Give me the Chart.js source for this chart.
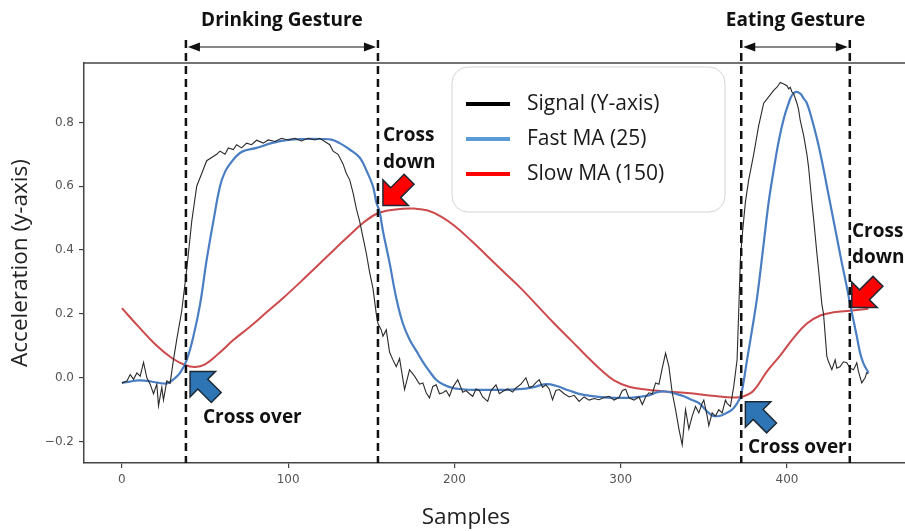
<!DOCTYPE html>
<html>
<head>
<meta charset="utf-8">
<script src="https://cdn.jsdelivr.net/npm/chart.js@4.4.0/dist/chart.umd.min.js"></script>
<style>
  html, body { margin: 0; padding: 0; background: #fff; overflow: hidden; }
</style>
</head>
<body>
<canvas id="myChart" width="905" height="531"></canvas>
<script>
// raw signal (y-axis accelerometer)
const signalX = [0,3,5,7,9,11,13,15,17,19,21,22,24,25,27,29,31,33,36,39,42,45,48,51,54,57,59,62,64,67,69,72,75,78,81,85,88,92,96,100,104,108,112,116,119,122,125,127,130,133,135,137,139,141,143,145,147,149,151,153,154,156,157,159,161,163,165,167,170,173,176,179,181,183,185,187,189,191,193,195,197,199,202,205,207,209,211,213,215,217,220,222,225,227,229,232,235,237,240,243,245,247,249,251,253,255,257,259,261,263,266,269,272,275,278,281,284,287,290,293,296,299,301,303,305,308,311,313,315,317,319,321,323,325,327,329,331,333,335,337,339,341,343,345,347,349,350,352,353,355,357,359,361,363,364,366,368,370,371,372,373,375,377,380,383,386,389,392,394,396,398,400,401,402,403,404,406,407,408,410,412,413,415,416,418,419,421,422,424,425,427,429,430,432,434,436,438,440,441,442,443,445,447,448,449];
const signalY = [-0.016,-0.01,0.01,-0.005,0.015,0.005,0.048,0.0,-0.02,-0.05,-0.02,-0.088,-0.03,-0.07,-0.01,-0.017,0.056,0.12,0.21,0.34,0.49,0.6,0.64,0.68,0.69,0.70,0.71,0.70,0.72,0.715,0.73,0.72,0.735,0.73,0.744,0.735,0.745,0.74,0.75,0.745,0.75,0.742,0.75,0.745,0.75,0.74,0.73,0.71,0.70,0.67,0.64,0.62,0.58,0.53,0.49,0.44,0.39,0.33,0.28,0.20,0.17,0.15,0.13,0.15,0.08,0.056,0.035,0.06,-0.037,0.025,0.005,-0.02,-0.016,-0.047,-0.063,-0.027,-0.022,-0.05,-0.047,-0.04,-0.058,-0.03,-0.006,-0.045,-0.04,-0.05,-0.058,-0.035,-0.04,-0.06,-0.074,-0.04,-0.022,-0.05,-0.043,-0.035,-0.045,-0.032,-0.02,0.0,-0.03,-0.027,-0.015,-0.006,-0.03,-0.022,-0.035,-0.069,-0.04,-0.037,-0.05,-0.06,-0.055,-0.074,-0.06,-0.07,-0.065,-0.069,-0.062,-0.058,-0.07,-0.062,-0.04,-0.036,-0.063,-0.07,-0.06,-0.084,-0.06,-0.047,-0.05,-0.016,-0.02,0.03,0.077,0.035,-0.047,-0.1,-0.16,-0.21,-0.10,-0.16,-0.12,-0.09,-0.11,-0.08,-0.07,-0.12,-0.15,-0.11,-0.12,-0.10,-0.11,-0.07,-0.08,-0.09,-0.027,0.056,0.21,0.37,0.44,0.55,0.62,0.70,0.79,0.86,0.88,0.90,0.91,0.925,0.92,0.915,0.905,0.91,0.895,0.89,0.86,0.84,0.806,0.76,0.70,0.66,0.55,0.5,0.39,0.34,0.23,0.2,0.067,0.05,0.025,0.056,0.03,0.035,0.05,0.047,0.03,0.025,0.035,0.047,0.02,-0.016,0.0,0.016,0.012];

// fast moving average (25)
const fastX = [0,5,10,15,20,25,28,31,35,39,43,47,51,55,59,62,65,69,73,81,90,100,110,120,126,131,137,143,147,151,153,155,157,161,165,169,173,177,181,185,189,193,199,205,211,221,231,241,247,255,261,269,277,287,297,307,317,322,327,333,338,343,347,351,355,359,363,367,370,372,374,376,379,382,386,389,392,395,398,401,403,405,408,410,412,415,418,421,424,427,430,433,436,438,440,442,444,446,449];
const fastY = [-0.016,-0.012,-0.008,-0.01,-0.014,-0.018,-0.016,-0.005,0.015,0.056,0.13,0.23,0.37,0.49,0.6,0.645,0.67,0.695,0.71,0.72,0.735,0.745,0.748,0.748,0.746,0.735,0.715,0.69,0.65,0.60,0.55,0.52,0.46,0.36,0.25,0.17,0.12,0.085,0.05,0.02,-0.006,-0.02,-0.032,-0.036,-0.038,-0.038,-0.038,-0.035,-0.03,-0.02,-0.025,-0.04,-0.053,-0.06,-0.063,-0.062,-0.055,-0.045,-0.043,-0.05,-0.058,-0.07,-0.079,-0.1,-0.118,-0.12,-0.112,-0.1,-0.08,-0.06,-0.01,0.056,0.15,0.25,0.42,0.55,0.65,0.74,0.81,0.86,0.885,0.895,0.89,0.875,0.86,0.81,0.75,0.68,0.60,0.52,0.44,0.36,0.285,0.23,0.18,0.13,0.078,0.045,0.016];

// slow moving average (150)
const slowX = [0,10,20,30,38,44,50,58,67,77,87,97,107,117,127,137,145,153,160,168,176,184,192,200,210,220,230,240,250,260,270,280,288,296,305,315,325,340,355,368,374,380,388,396,404,412,420,428,438,449];
const slowY = [0.218,0.16,0.105,0.062,0.04,0.034,0.042,0.075,0.118,0.16,0.205,0.25,0.298,0.348,0.398,0.447,0.485,0.513,0.524,0.529,0.53,0.524,0.505,0.476,0.43,0.38,0.33,0.28,0.225,0.17,0.118,0.065,0.025,-0.008,-0.028,-0.037,-0.042,-0.048,-0.056,-0.062,-0.058,-0.04,0.02,0.07,0.125,0.17,0.195,0.205,0.21,0.216];

const seriesLabels = ['Signal (Y-axis)', 'Fast MA (25)', 'Slow MA (150)'];
const xTicks = [0, 100, 200, 300, 400];
const yTicks = [-0.2, 0.0, 0.2, 0.4, 0.6, 0.8];

// gesture limits (samples) and crossing points
const gestureBounds = [38.5, 154, 372.5, 437.8];
const gestureNames = ['Drinking Gesture', 'Eating Gesture'];
const crossOverPts = [[41, 0.02], [375, -0.075]];
const crossDownPts = [[157, 0.54], [439, 0.22]];

const textFont = 'Open Sans';

function pairs(xs, ys) {
    return xs.map((x, i) => ({ x: x, y: ys[i] }));
}

function blockArrow(ctx, tx, ty, ang, fill) {
    // arrow pointing along ang, tip at (tx, ty)
    const L = 37, h = 18, hw = 18, bw = 14;
    const pts = [[0, 0], [-h, -hw], [-h, -bw / 2], [-L, -bw / 2], [-L, bw / 2], [-h, bw / 2], [-h, hw]];
    ctx.save();
    ctx.translate(tx, ty);
    ctx.rotate(ang);
    ctx.beginPath();
    pts.forEach((p, i) => i ? ctx.lineTo(p[0], p[1]) : ctx.moveTo(p[0], p[1]));
    ctx.closePath();
    ctx.fillStyle = fill;
    ctx.fill();
    ctx.lineWidth = 1.5;
    ctx.strokeStyle = '#1d2a36';
    ctx.stroke();
    ctx.restore();
}

function headArrow(ctx, x1, x2, y) {
    ctx.save();
    ctx.strokeStyle = '#111';
    ctx.fillStyle = '#111';
    ctx.lineWidth = 1;
    ctx.beginPath();
    ctx.moveTo(x1 + 3, y);
    ctx.lineTo(x2 - 3, y);
    ctx.stroke();
    [[x1, 1], [x2, -1]].forEach(([x, d]) => {
        ctx.beginPath();
        ctx.moveTo(x, y);
        ctx.lineTo(x + d * 12, y - 4.5);
        ctx.lineTo(x + d * 12, y + 4.5);
        ctx.closePath();
        ctx.fill();
    });
    ctx.restore();
}

const annotations = {
    id: 'annotations',
    afterDraw(chart) {
        const { ctx, chartArea: a, scales: { x, y } } = chart;
        ctx.save();

        // top frame line
        ctx.strokeStyle = '#444';
        ctx.lineWidth = 1.5;
        ctx.beginPath();
        ctx.moveTo(a.left, a.top);
        ctx.lineTo(a.right, a.top);
        ctx.stroke();

        // dashed gesture limits
        ctx.strokeStyle = '#111';
        ctx.lineWidth = 2.5;
        ctx.setLineDash([8, 5]);
        gestureBounds.forEach(b => {
            const px = x.getPixelForValue(b);
            ctx.beginPath();
            ctx.moveTo(px, 40);
            ctx.lineTo(px, a.bottom);
            ctx.stroke();
        });
        ctx.setLineDash([]);

        // gesture span arrows + names
        ctx.font = 'bold 19px ' + textFont;
        ctx.fillStyle = '#111';
        ctx.textAlign = 'center';
        ctx.textBaseline = 'middle';
        gestureNames.forEach((name, i) => {
            const p1 = x.getPixelForValue(gestureBounds[2 * i]);
            const p2 = x.getPixelForValue(gestureBounds[2 * i + 1]);
            headArrow(ctx, p1 + 2, p2 - 2, 47);
            ctx.fillText(name, (p1 + p2) / 2, 21);
        });

        // crossing arrows
        crossOverPts.forEach(p => {
            blockArrow(ctx, x.getPixelForValue(p[0]), y.getPixelForValue(p[1]), -3 * Math.PI / 4, '#2e75b6');
        });
        crossDownPts.forEach(p => {
            blockArrow(ctx, x.getPixelForValue(p[0]), y.getPixelForValue(p[1]), 3 * Math.PI / 4, '#ff0000');
        });

        ctx.textAlign = 'left';
        ctx.fillStyle = '#111';
        ctx.fillText('Cross over', 203, 418);
        ctx.fillText('Cross over', 748, 448);
        ctx.fillText('Cross', 383, 136);
        ctx.fillText('down', 383, 163);
        ctx.fillText('Cross', 852, 232);
        ctx.fillText('down', 852, 258);

        // x axis title
        ctx.font = '22.5px ' + textFont;
        ctx.fillStyle = '#222';
        ctx.textAlign = 'center';
        ctx.fillText('Samples', 466, 518);

        // legend
        const lx = 452, ly = 67, lw = 273, lh = 145;
        ctx.beginPath();
        ctx.roundRect(lx, ly, lw, lh, 16);
        ctx.fillStyle = '#fff';
        ctx.fill();
        ctx.strokeStyle = '#d4d4d4';
        ctx.lineWidth = 1;
        ctx.stroke();
        const swatch = ['#000000', '#5b9bd5', '#ff0000'];
        ctx.font = '21px ' + textFont;
        ctx.textAlign = 'left';
        chart.data.datasets.forEach((ds, i) => {
            const ry = 104 + i * 35;
            ctx.strokeStyle = swatch[i];
            ctx.lineWidth = 4;
            ctx.beginPath();
            ctx.moveTo(466, ry);
            ctx.lineTo(510, ry);
            ctx.stroke();
            ctx.fillStyle = '#1a1a1a';
            ctx.fillText(ds.label, 527, ry);
        });

        ctx.restore();
    }
};

const tickFont = { family: 'DejaVu Sans', size: 12 };

new Chart(document.getElementById('myChart').getContext('2d'), {
    type: 'line',
    data: {
        datasets: [
            { label: seriesLabels[0], data: pairs(signalX, signalY), borderColor: '#2a2a2a', borderWidth: 1.1, tension: 0 },
            { label: seriesLabels[1], data: pairs(fastX, fastY), borderColor: '#4a7ec2', borderWidth: 2.2, tension: 0.4 },
            { label: seriesLabels[2], data: pairs(slowX, slowY), borderColor: '#cc4a4c', borderWidth: 2, tension: 0.4 }
        ]
    },
    options: {
        responsive: false,
        animation: false,
        layout: { padding: { left: 0, right: 0, top: 63, bottom: 0 } },
        elements: { point: { radius: 0 } },
        plugins: { legend: { display: false }, tooltip: { enabled: false } },
        scales: {
            x: {
                type: 'linear',
                min: -22.8,
                max: 471,
                afterBuildTicks: s => { s.ticks = xTicks.map(v => ({ value: v })); },
                afterFit: s => { s.height = 68; },
                ticks: { color: '#555', font: tickFont, padding: 5, maxRotation: 0 },
                grid: { drawOnChartArea: false, drawTicks: true, tickLength: 5, color: '#444', lineWidth: 1.2 },
                border: { color: '#444', width: 1.5 }
            },
            y: {
                type: 'linear',
                min: -0.267,
                max: 0.986,
                afterBuildTicks: s => { s.ticks = yTicks.map(v => ({ value: v })); },
                afterFit: s => { s.width = 84; },
                ticks: {
                    color: '#555', font: tickFont, padding: 5,
                    callback: v => v.toFixed(1).replace('-', '\u2212')
                },
                grid: { drawOnChartArea: false, drawTicks: true, tickLength: 5, color: '#444', lineWidth: 1.2 },
                border: { color: '#444', width: 1.5 },
                title: { display: true, text: 'Acceleration (y-axis)', color: '#222', font: { family: textFont, size: 22.5 }, padding: { top: 7, bottom: 0 } }
            }
        }
    },
    plugins: [annotations]
});
</script>
</body>
</html>
